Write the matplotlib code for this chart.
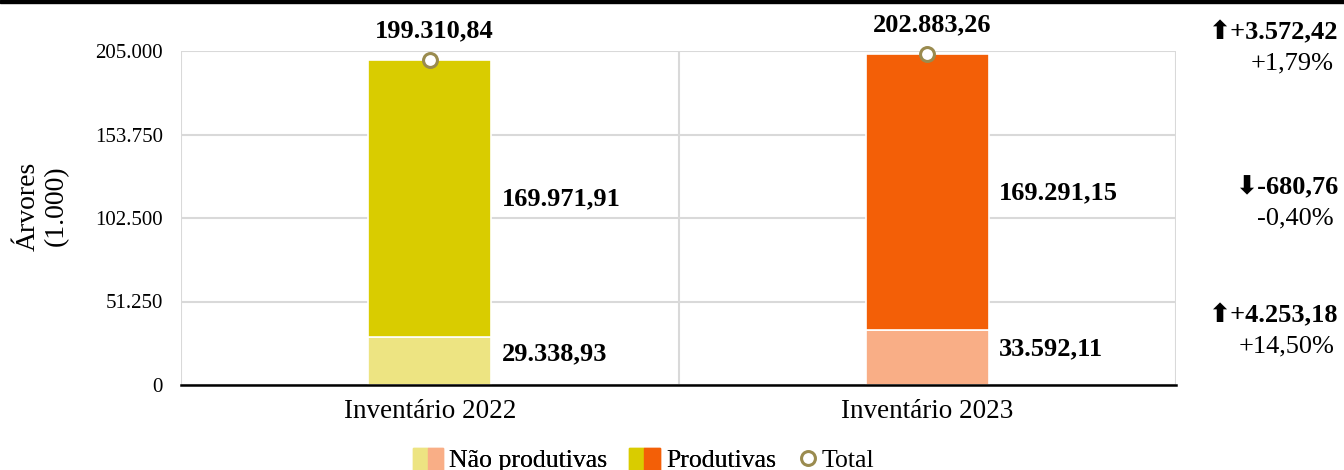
import matplotlib
matplotlib.use("Agg")
import matplotlib.pyplot as plt
from matplotlib.patches import Rectangle
from matplotlib.lines import Line2D
from matplotlib.legend_handler import HandlerTuple

plt.rcParams['font.family'] = ['Liberation Serif', 'DejaVu Sans']

categories = ["Inventário 2022", "Inventário 2023"]
nao_produtivas = [29338.93, 33592.11]
produtivas = [169971.91, 169291.15]
totais = [199310.84, 202883.26]
nao_labels = ["29.338,93", "33.592,11"]
prod_labels = ["169.971,91", "169.291,15"]
total_labels = ["199.310,84", "202.883,26"]
yticks = [0, 51250, 102500, 153750, 205000]
ytick_labels = ["0", "51.250", "102.500", "153.750", "205.000"]
diff_values = ["+3.572,42", "-680,76", "+4.253,18"]
diff_pcts = ["+1,79%", "-0,40%", "+14,50%"]
diff_up = [True, False, True]

col_nao = ["#EDE482", "#F9AE86"]
col_prod = ["#D9CC00", "#F35F07"]
marker_edge = "#9A8B4F"

W, H = 1344, 470
fig = plt.figure(figsize=(W/100, H/100), dpi=100)
ax = fig.add_axes([181/W, 1 - 385/H, (1176-181)/W, (385-51)/H])

x = list(range(len(categories)))
bw = 0.248
ax.bar(x, nao_produtivas, width=bw, color=col_nao, edgecolor="white", linewidth=1.2, zorder=3)
ax.bar(x, produtivas, width=bw, bottom=nao_produtivas, color=col_prod, edgecolor="white", linewidth=1.2, zorder=3)
ax.plot(x, totais, linestyle="none", marker="o", markersize=10, markerfacecolor="white",
        markeredgecolor=marker_edge, markeredgewidth=2.2, zorder=5, clip_on=False)

ax.set_xlim(-0.5, len(categories) - 0.5)
ax.set_ylim(0, 205000)
ax.set_yticks(yticks)
ax.set_yticklabels(ytick_labels, fontsize=15)
ax.set_xticks(x)
ax.set_xticklabels(categories, fontsize=19.5)
ax.set_xticks([-0.5, 0.5, 1.5], minor=True)
ax.tick_params(axis="x", which="both", length=0, pad=10)
ax.tick_params(axis="y", length=0, pad=13)
ax.grid(axis="y", color="#D9D9D9", linewidth=1.5, zorder=0)
ax.grid(axis="x", which="minor", color="#D9D9D9", linewidth=1.5, zorder=0)
ax.grid(axis="x", which="major", visible=False)
for s in ["top", "right", "left"]:
    ax.spines[s].set_visible(False)
ax.spines["bottom"].set_color("black")
ax.spines["bottom"].set_linewidth(1.8)
ax.spines["bottom"].set_zorder(6)

ax.set_ylabel("Árvores\n(1.000)", fontsize=20, linespacing=1.15)
ax.yaxis.set_label_coords((69 - 181) / 995, (385 - 206) / 334)

for i in x:
    ax.annotate(total_labels[i], (i, totais[i]), xytext=(3.5, 13), textcoords="offset points",
                ha="center", va="bottom", fontsize=19, fontweight="bold", annotation_clip=False)
    ax.text(i + bw/2 + 0.02, nao_produtivas[i] + produtivas[i] / 2, prod_labels[i],
            ha="left", va="center", fontsize=19, fontweight="bold")
    ax.text(i + bw/2 + 0.02, nao_produtivas[i] * 0.66, nao_labels[i],
            ha="left", va="center", fontsize=19, fontweight="bold")

# right-side differences
row_y = [33, 188, 316]
for j in range(3):
    arrow = "⬆" if diff_up[j] else "⬇"
    fig.text(1338/W, 1 - row_y[j]/H, arrow + diff_values[j], ha="right", va="center",
             fontsize=19, fontweight="bold", family=['Liberation Serif', 'DejaVu Sans'])
    fig.text(1334/W, 1 - (row_y[j] + 30)/H, diff_pcts[j], ha="right", va="center", fontsize=19)

# top black band
fig.patches.append(Rectangle((0, 1 - 2.5/H), 1, 2.5/H, transform=fig.transFigure,
                             color="black", zorder=10))

h_nao = (Rectangle((0, 0), 1, 1, color=col_nao[0]), Rectangle((0, 0), 1, 1, color=col_nao[1]))
h_prod = (Rectangle((0, 0), 1, 1, color=col_prod[0]), Rectangle((0, 0), 1, 1, color=col_prod[1]))
h_tot = Line2D([], [], linestyle="none", marker="o", markersize=10, markerfacecolor="white",
               markeredgecolor=marker_edge, markeredgewidth=2.2)
leg_y = 1 - 460/H
leg1 = fig.legend([h_nao, h_prod], ["Não produtivas", "Produtivas"],
                  handler_map={tuple: HandlerTuple(ndivide=None, pad=0)},
                  loc="center left", bbox_to_anchor=(413/W, leg_y), ncol=2, frameon=False,
                  borderpad=0, borderaxespad=0,
                  fontsize=18.5, handlelength=1.17, handleheight=0.95, handletextpad=0.25,
                  columnspacing=0.85)
fig.add_artist(leg1)
fig.legend([h_tot], ["Total"], loc="center left", bbox_to_anchor=(800/W, leg_y), frameon=False,
           borderpad=0, borderaxespad=0, fontsize=18.5, handlelength=0.6, handleheight=0.95,
           handletextpad=0.25)

fig.savefig("out.png", dpi=100)
